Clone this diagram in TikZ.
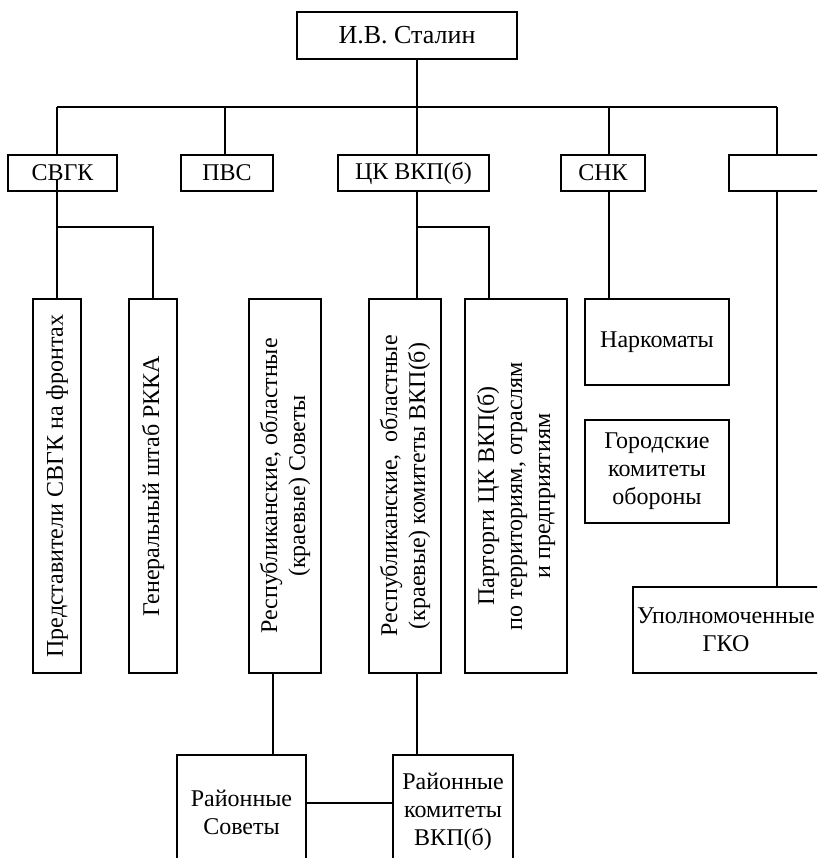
\documentclass[tikz,border=0pt]{standalone}
\usepackage{fontspec}
\setmainfont{Liberation Serif}
\usetikzlibrary{positioning}
\tikzset{x=1pt, y=-1pt,
         box/.style={draw, line width=1.5pt, inner sep=0pt, align=center,
                     font=\fontsize{24}{28}\selectfont},
         vtext/.style={rotate=90, align=center, font=\fontsize{24}{28}\selectfont} }

\begin{document}
\begin{tikzpicture}[line width=1.5pt]
    \useasboundingbox (0,0) rectangle (817,858);
    \clip (0,0) rectangle (817,858);
    % top
    \node[box, minimum width=220pt, minimum height=47pt, font=\fontsize{26}{30}\selectfont] (stalin) at (407,35.5) {И.В. Сталин};
    \coordinate (b1) at (57,107);
    \coordinate (b2) at (225,107);
    \coordinate (b3) at (417,107);
    \coordinate (b4) at (609,107);
    \coordinate (b5) at (777,107);
    % second row
    \node[box, minimum width=109pt, minimum height=36pt] (svgk) at (62.5,173) {СВГК};
    \node[box, minimum width=92pt, minimum height=36pt] (pvs) at (227,173) {ПВС};
    \node[box, minimum width=151pt, minimum height=36pt] (ck) at (413.5,173) {ЦК ВКП(б)};
    \node[box, minimum width=84pt, minimum height=36pt] (snk) at (603,173) {СНК};
    \node[box, minimum width=96pt, minimum height=36pt] (top5) at (777,173) {};
    % third row
    \node[box, minimum width=48pt, minimum height=374pt] (rep) at (57,486) {};
    \node[vtext] (rep-t) at (rep) {Представители СВГК на фронтах};
    \node[box, minimum width=48pt, minimum height=374pt] (gen) at (153,486) {};
    \node[vtext] (gen-t) at (gen) {Генеральный штаб РККА};
    \node[box, minimum width=72pt, minimum height=374pt] (sov) at (285,486) {};
    \node[vtext] (sov-t) at (sov) {Республиканские, областные\\(краевые) Советы};
    \node[box, minimum width=72pt, minimum height=374pt] (kom) at (405,486) {};
    \node[vtext] (kom-t) at (kom) {Республиканские,\ \ областные\\(краевые) комитеты ВКП(б)};
    \node[box, minimum width=102pt, minimum height=374pt] (partorg) at (516,486) {};
    \node[vtext] (partorg-t) at ([yshift=-10pt]partorg.center) {Парторги ЦК ВКП(б)\\по территориям, отраслям\\и предприятиям};
    \node[box, minimum width=144pt, minimum height=86pt] (nark) at (657,342) {Наркоматы};
    \node[box, minimum width=144pt, minimum height=103pt] (gorkom) at (657,471.5) {Городские\\комитеты\\обороны};
    \node[box, minimum width=186pt, minimum height=86pt] (upoln) at (726,630) {Уполномоченные\\ГКО};
    % bottom
    \node[box, minimum width=129pt, minimum height=114pt] (rsov) at (241.5,812) {Районные\\Советы};
    \node[box, minimum width=120pt, minimum height=114pt] (rkom) at (453,812) {Районные\\комитеты\\ВКП(б)};
    \coordinate (svfork) at (57,227);
    \coordinate (ckfork) at (417,227);
    \coordinate (sovout) at ([xshift=-12pt]sov.south);

    % connectors
    \draw (b1) -- (b5);
    \draw (b3) -- (b3 |- stalin.south);
    \foreach \c/\n in {b1/svgk, b2/pvs, b3/ck, b4/snk, b5/top5}
        \draw (\c) -- (\c |- \n.north);
    \draw (b1 |- svgk.center) ++(0,7) -- (b1 |- rep.north);
    \draw (svfork) -| (gen.north);
    \draw (b3 |- ck.south) -- (b3 |- kom.north);
    \draw (ckfork) -| ([xshift=-27pt]partorg.north);
    \draw (b4 |- snk.south) -- (b4 |- nark.north);
    \draw (b5 |- top5.south) -- (b5 |- upoln.north);
    \draw (sovout) -- (sovout |- rsov.north);
    \draw (b3 |- kom.south) -- (b3 |- rkom.north);
    \draw ([yshift=9pt]rsov.east) -- ([yshift=9pt]rkom.west);
\end{tikzpicture}
\end{document}
